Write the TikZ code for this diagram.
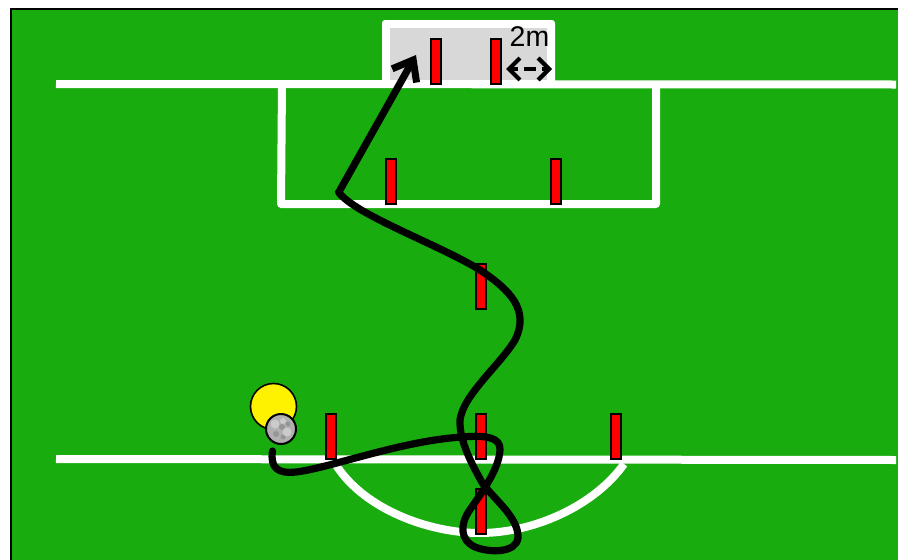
\documentclass[tikz,border=0pt]{standalone}
\usepackage{fontspec}
\setmainfont{Liberation Sans}
\usetikzlibrary{arrows.meta}
\definecolor{pitch}{RGB}{24,172,14}
\definecolor{goalgrey}{RGB}{216,216,216}
\tikzset{
  x=1pt,y=-1pt,
  fieldline/.style={draw=white,line width=8pt},
  post/.style={draw=black,fill=red,line width=1.8pt,minimum width=10pt,minimum height=45pt,inner sep=0pt,outer sep=0pt},
  runpath/.style={draw=black,line width=7.2pt,line cap=round,line join=round},
}
\begin{document}
\begin{tikzpicture}
\useasboundingbox (0,0) rectangle (898,560);
\fill[black] (10,8) rectangle (898,560);
\fill[pitch] (12,10) rectangle (898,560);
% goal
\fill[white,rounded corners=3pt] (382,20) rectangle (555,86);
\fill[goalgrey] (390,28) rectangle (547,80);
% lines
\draw[fieldline] (56,84) -- (896,84.5);
\draw[fieldline,line join=round] (282,84) -- (281,204) -- (656,204) -- (656,84);
\draw[fieldline] (56,459) -- (896,460);
\draw[fieldline] (336,465) .. controls (365,510) and (430,533) .. (480,533) .. controls (535,533) and (595,505) .. (624,464);
% posts
\node[post] (p1) at (436,61.5) {};
\node[post] (p2) at (496,61.5) {};
\node[post] (p3) at (391,181.5) {};
\node[post] (p4) at (556,181.5) {};
\node[post] (p5) at (481,286.5) {};
\node[post] (p6) at (331,436.5) {};
\node[post] (p7) at (481,436.5) {};
\node[post] (p8) at (616,436.5) {};
\node[post] (p9) at (481,511.5) {};
% player and ball
\node[circle,draw=black,fill=yellow,line width=1.6pt,minimum size=46pt,inner sep=0pt] (player) at (273.5,406.5) {};
\node[circle,draw=black,fill=gray!62,line width=2pt,minimum size=30pt,inner sep=0pt] (ball) at (281,429) {};
\fill[white,opacity=.35] (275,424) circle (4.5pt) (287,432) circle (4.5pt) (283,421) circle (3pt);
\fill[black,opacity=.15] (282,427) circle (3pt) (276,434) circle (3pt) (288,424) circle (2.5pt) (283,437) circle (2.5pt);
% dribble path
\coordinate (start) at (272.5,451);
\coordinate (kick) at (338.5,192);
\coordinate (launch) at (340,190);
\coordinate (target) at (416,55);
\draw[runpath] (start)
  .. controls (270,468) and (278,474) .. (296,472)
  .. controls (330,468) and (400,441) .. (462,437)
  .. controls (485,435) and (501,437) .. (500,450)
  .. controls (499,470) and (480,495) .. (469,511)
  .. controls (460,525) and (460,540) .. (475,547)
  .. controls (490,553) and (516,553) .. (518,538)
  .. controls (519,518) and (495,500) .. (483,484)
  .. controls (472,465) and (459,440) .. (460,420)
  .. controls (463,395) and (500,365) .. (515,340)
  .. controls (530,310) and (510,290) .. (480,270)
  .. controls (440,245) and (355,215) .. (kick);
\draw[runpath,-{Straight Barb[length=18pt,width=28pt,line width=7pt]}] (launch) -- (target);
% dimension
\node[font=\fontsize{28.5}{30}\selectfont,inner sep=0pt] (dim) at (529.5,37) {2m};
\coordinate (dl) at (506,69);
\coordinate (dr) at (552,69);
\draw[draw=black,line width=4.2pt,dash pattern=on 12pt off 6pt,dash phase=5pt,{Straight Barb[length=11pt,width=22pt,line width=4.2pt]}-{Straight Barb[length=11pt,width=22pt,line width=4.2pt]}] (dl) -- (dr);
\end{tikzpicture}
\end{document}
